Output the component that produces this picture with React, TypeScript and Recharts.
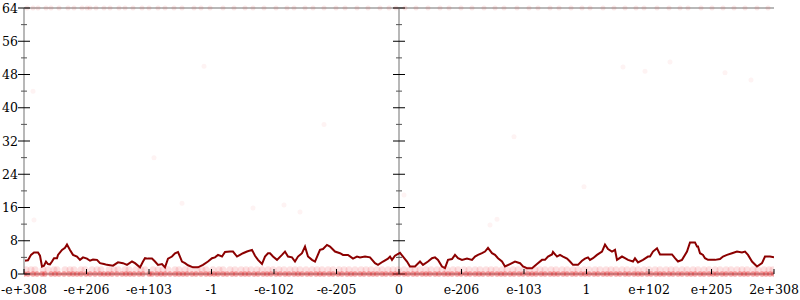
import React from 'react';
import { ComposedChart, Line, Scatter, XAxis, YAxis, ReferenceLine } from 'recharts';

// x positions are in axis units: 0 .. 750 spans the full axis, 375 is the middle (0)
const xTickValues = [0, 62.5, 125, 187.5, 250, 312.5, 375, 437.5, 500, 562.5, 625, 687.5, 750];
const xTickLabels = ['-e+308', '-e+206', '-e+103', '-1', '-e-102', '-e-205', '0', 'e-206', 'e-103', '1', 'e+102', 'e+205', '2e+308'];
const yTickValues = [0, 4, 8, 12, 16, 20, 24, 28, 32, 36, 40, 44, 48, 52, 56, 60, 64];

// moving average line: [x, value]
const avgX = [0, 4, 7, 10, 14, 16, 18, 20, 22, 24, 26, 28, 30, 33, 34, 38, 41, 43, 46, 49, 53, 56, 59, 63, 66, 69, 73, 76, 80, 83, 89, 94, 99, 103, 108, 111, 116, 119, 121, 124, 128, 131, 134, 138, 141, 144, 148, 151, 154, 158, 161, 164, 169, 174, 179, 184, 188, 191, 194, 198, 201, 206, 209, 213, 216, 219, 223, 228, 231, 234, 238, 241, 244, 246, 249, 253, 258, 261, 264, 268, 271, 274, 278, 281, 284, 288, 291, 296, 299, 303, 306, 311, 316, 319, 324, 329, 333, 336, 341, 346, 351, 354, 359, 364, 366, 368, 371, 376, 379, 383, 386, 391, 396, 399, 404, 408, 411, 414, 418, 421, 424, 428, 431, 434, 438, 443, 448, 451, 454, 458, 461, 464, 468, 471, 474, 478, 481, 486, 491, 496, 499, 503, 508, 513, 518, 521, 524, 528, 529, 533, 536, 539, 543, 546, 549, 554, 558, 561, 564, 566, 569, 573, 578, 581, 584, 588, 591, 593, 598, 601, 604, 609, 611, 614, 619, 624, 626, 629, 633, 636, 641, 648, 651, 654, 658, 663, 666, 671, 673, 674, 676, 679, 681, 684, 691, 696, 699, 703, 708, 713, 718, 721, 724, 728, 733, 738, 741, 746, 750];
const avgY = [3.2, 3.3, 4.6, 5.2, 5.2, 4.4, 1.8, 2.0, 3.0, 2.4, 2.3, 3.0, 3.8, 3.8, 4.6, 5.8, 6.3, 7.1, 5.8, 4.6, 4.2, 3.4, 4.0, 3.7, 3.2, 3.5, 3.4, 2.6, 2.4, 2.2, 2.0, 2.8, 2.6, 2.2, 3.0, 2.6, 1.6, 3.0, 3.8, 3.7, 3.7, 3.0, 2.2, 2.4, 1.6, 3.7, 4.2, 5.0, 5.3, 3.0, 2.6, 2.1, 1.6, 1.6, 2.2, 3.0, 3.8, 4.0, 4.6, 4.2, 5.3, 5.4, 5.4, 4.2, 4.6, 5.0, 5.4, 5.8, 4.4, 3.4, 2.4, 4.2, 5.0, 5.0, 4.2, 3.4, 4.6, 5.4, 4.2, 4.0, 3.0, 4.2, 5.0, 6.6, 4.2, 3.4, 3.0, 5.8, 6.0, 7.0, 6.6, 5.4, 5.0, 4.6, 4.6, 3.7, 4.2, 4.0, 4.2, 4.0, 2.6, 2.2, 3.0, 3.7, 4.2, 3.4, 4.4, 5.1, 4.2, 3.0, 1.8, 1.8, 3.0, 2.2, 3.0, 3.8, 4.0, 3.4, 1.8, 1.4, 3.4, 3.6, 4.6, 3.8, 3.4, 3.7, 3.4, 4.2, 4.6, 5.0, 5.4, 6.3, 5.0, 4.6, 3.8, 3.0, 1.8, 2.4, 3.0, 2.6, 1.8, 1.4, 1.4, 2.4, 3.4, 3.4, 4.2, 4.7, 5.3, 4.2, 4.6, 4.2, 3.7, 3.0, 2.2, 2.2, 3.2, 3.7, 4.0, 3.4, 3.8, 4.6, 5.4, 7.1, 6.0, 5.4, 5.8, 3.4, 4.2, 3.8, 3.4, 3.0, 3.8, 2.8, 3.4, 4.2, 4.2, 5.4, 6.2, 4.7, 4.7, 4.7, 3.8, 3.0, 3.4, 5.4, 7.6, 7.6, 6.6, 6.6, 5.0, 4.6, 3.8, 3.4, 3.4, 3.6, 4.2, 4.6, 5.0, 5.4, 5.2, 5.4, 4.6, 3.0, 1.8, 2.6, 4.2, 4.2, 4.0];

// raw samples
const zeroLevelX = [0, 4, 9, 13, 18, 21, 27, 31, 35, 40, 45, 49, 53, 57, 62, 66, 71, 76, 80, 84, 88, 93, 98, 102, 106, 110, 115, 119, 125, 128, 133, 137, 141, 146, 151, 155, 159, 163, 168, 172, 177, 182, 186, 190, 194, 199, 203, 208, 212, 217, 221, 225, 230, 234, 239, 243, 247, 252, 256, 261, 265, 270, 274, 278, 283, 287, 292, 296, 300, 305, 309, 314, 318, 323, 327, 331, 336, 340, 345, 349, 353, 358, 362, 367, 371, 375, 380, 384, 389, 393, 398, 402, 406, 411, 415, 420, 424, 428, 433, 437, 442, 446, 451, 455, 459, 464, 468, 473, 477, 481, 486, 490, 495, 499, 504, 508, 512, 517, 521, 526, 530, 534, 539, 543, 548, 552, 557, 561, 565, 570, 574, 579, 583, 587, 592, 596, 601, 605, 610, 614, 618, 623, 627, 632, 636, 640, 645, 649, 654, 658, 663, 667, 671, 676, 680, 685, 689, 693, 698, 702, 707, 711, 716, 720, 724, 729, 733, 738, 742, 746, 750];
const oneLevelX = [2, 7, 11, 19, 24, 30, 33, 41, 46, 50, 57, 61, 68, 73, 77, 85, 90, 94, 101, 105, 112, 117, 121, 129, 134, 139, 144, 151, 155, 161, 166, 173, 178, 182, 189, 195, 199, 206, 211, 217, 222, 227, 233, 238, 244, 249, 255, 260, 266, 271, 276, 282, 288, 293, 298, 304, 309, 315, 320, 325, 331, 337, 342, 347, 353, 358, 364, 369, 374, 380, 386, 391, 396, 402, 407, 413, 418, 423, 429, 434, 440, 445, 451, 456, 462, 467, 472, 478, 483, 489, 494, 500, 505, 511, 516, 521, 527, 532, 538, 543, 549, 554, 560, 565, 571, 576, 582, 587, 592, 598, 603, 609, 614, 620, 625, 631, 636, 642, 647, 652, 658, 663, 669, 674, 680, 685, 691, 696, 702, 707, 713, 718, 723, 729, 734, 740, 745, 749];
const topLevelX = [3, 9, 14, 22, 27, 35, 44, 50, 58, 63, 66, 72, 80, 86, 95, 101, 109, 118, 125, 134, 141, 150, 158, 170, 177, 186, 199, 210, 221, 229, 240, 252, 263, 270, 281, 289, 300, 312, 321, 333, 344, 356, 365, 372, 381, 392, 404, 416, 425, 437, 448, 460, 471, 480, 493, 505, 514, 526, 535, 547, 558, 566, 579, 590, 601, 612, 620, 633, 645, 656, 664, 677, 688, 699, 710, 721, 733, 744];
const strayX = [9, 158, 229, 10, 260, 276, 473, 466, 599, 621, 646, 701, 727, 180, 130, 300, 490, 560, 380];
const strayY = [44, 17, 15.9, 13, 16.6, 14.9, 13.2, 11.8, 49.8, 48.8, 51, 48.4, 46.7, 50, 28, 36, 33, 21, 19];

const lineData = avgX.map((x, i) => ({ x, y: avgY[i] }));
const zeroData = zeroLevelX.map((x) => ({ x, y: 0 }));
const oneData = oneLevelX.map((x) => ({ x, y: 1 }));
const topData = topLevelX.map((x) => ({ x, y: 64 }));
const strayData = strayX.map((x, i) => ({ x, y: strayY[i] }));
const midAxisData = yTickValues.map((y) => ({ x: 375, y }));

const FONT = 'DejaVu Serif';
const AXIS_GRAY = '#b8b8b8';

const LeftTick = (props: any) => {
  const { x, y, payload } = props;
  const v = payload.value;
  const major = v % 8 === 0;
  return (
    <g>
      {major ? (
        <line x1={x - 6} x2={x + 6} y1={y} y2={y} stroke="#000" strokeWidth={1} />
      ) : (
        <line x1={x - 3} x2={x + 3} y1={y} y2={y} stroke="#555" strokeWidth={1} />
      )}
      {major && (
        <text x={x - 6} y={y} dy="0.36em" textAnchor="end" fontFamily={FONT} fontSize={12.5} fill="#000">
          {v}
        </text>
      )}
    </g>
  );
};

const RightTick = (props: any) => {
  const { x, y, payload } = props;
  const major = payload.value % 8 === 0;
  return major ? (
    <line x1={x - 6} x2={x + 6} y1={y} y2={y} stroke="#000" strokeWidth={1} />
  ) : (
    <line x1={x - 3} x2={x + 3} y1={y} y2={y} stroke="#555" strokeWidth={1} />
  );
};

const BottomTick = (props: any) => {
  const { x, y, index } = props;
  return (
    <g>
      <line x1={x} x2={x} y1={y} y2={y - 5} stroke="#000" strokeWidth={1} />
      <text x={x} y={y + 20} textAnchor="middle" fontFamily={FONT} fontSize={12.5} fill="#000">
        {xTickLabels[index] ?? ''}
      </text>
    </g>
  );
};

const MidTickShape = (props: any) => {
  const { cx, cy, payload } = props;
  const major = payload.y % 8 === 0;
  const h = major ? 6 : 3;
  return <line x1={cx - h} x2={cx + h} y1={cy} y2={cy} stroke={major ? '#000' : '#555'} strokeWidth={1} />;
};

const dotShape = (r: number, fill: string, opacity: number) => (props: any) => (
  <circle cx={props.cx} cy={props.cy} r={r} fill={fill} fillOpacity={opacity} />
);

export default function App() {
  return (
    <div style={{ position: 'absolute', left: 0, top: 0, width: 800, height: 300 }}>
      <ComposedChart width={800} height={300} margin={{ top: 8, right: 26, bottom: 0, left: 0 }}>
        <XAxis
          type="number"
          dataKey="x"
          domain={[0, 750]}
          ticks={xTickValues}
          interval={0}
          height={26}
          tickSize={0}
          tickMargin={0}
          tick={<BottomTick />}
          axisLine={{ stroke: AXIS_GRAY, strokeWidth: 2 }}
          tickLine={false}
          allowDataOverflow
        />
        <YAxis
          yAxisId="l"
          type="number"
          dataKey="y"
          domain={[0, 64]}
          ticks={yTickValues}
          interval={0}
          width={24}
          tickSize={0}
          tickMargin={0}
          tick={<LeftTick />}
          axisLine={{ stroke: AXIS_GRAY, strokeWidth: 2 }}
          tickLine={false}
        />
        <YAxis
          yAxisId="r"
          orientation="right"
          type="number"
          domain={[0, 64]}
          ticks={yTickValues}
          interval={0}
          width={0}
          tickSize={0}
          tickMargin={0}
          tick={<RightTick />}
          axisLine={{ stroke: AXIS_GRAY, strokeWidth: 2 }}
          tickLine={false}
        />
        <ReferenceLine yAxisId="l" y={64} stroke={AXIS_GRAY} strokeWidth={2} />
        <ReferenceLine yAxisId="l" x={375} stroke={AXIS_GRAY} strokeWidth={2} />
        <Scatter yAxisId="l" data={midAxisData} shape={MidTickShape} isAnimationActive={false} />
        <Scatter yAxisId="l" data={topData} shape={dotShape(2.5, '#e41a1c', 0.1)} isAnimationActive={false} />
        <Scatter yAxisId="l" data={strayData} shape={dotShape(2.5, '#e41a1c', 0.05)} isAnimationActive={false} />
        <Scatter yAxisId="l" data={oneData} shape={dotShape(3.5, '#e41a1c', 0.13)} isAnimationActive={false} />
        <Scatter yAxisId="l" data={zeroData} shape={dotShape(2.8, '#e41a1c', 0.4)} isAnimationActive={false} />
        <Line
          yAxisId="l"
          data={lineData}
          dataKey="y"
          type="linear"
          stroke="#8b0000"
          strokeWidth={2}
          dot={false}
          isAnimationActive={false}
        />
      </ComposedChart>
    </div>
  );
}
